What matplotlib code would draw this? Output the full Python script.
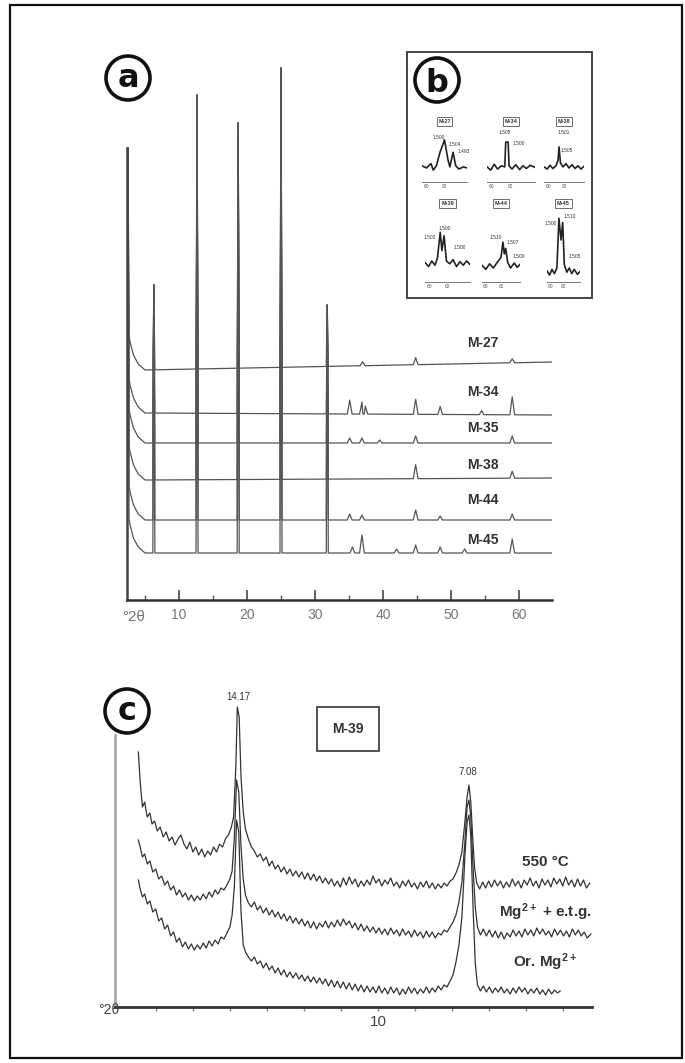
import numpy as np
import matplotlib.pyplot as plt
from matplotlib.patches import Rectangle, Circle

W, H = 685, 1063
plt.rcParams['font.family'] = ['Liberation Sans Narrow', 'Liberation Sans', 'DejaVu Sans']
plt.rcParams['mathtext.default'] = 'regular'

# ---------------- panel a : whole-rock patterns ----------------
a_samples = ['M-27', 'M-34', 'M-35', 'M-38', 'M-44', 'M-45']
a_base_left = [230, 187, 157, 120, 80, 47]
a_base_right = [238, 185, 157, 122, 80, 47]
a_hook_deg = [2.4, 2.8, 3.3, 4.0, 5.0]
a_hook_rise = [45, 28, 15, 6, 0]
a_main_pos = [2.5, 6.3, 12.65, 18.7, 25.0, 31.8]
a_main_top = [452, 315, 505, 477, 532, 295]
a_minor_pos = [
    [37.0, 44.8, 59.0],
    [35.1, 36.9, 37.4, 44.8, 48.4, 54.5, 59.0],
    [35.1, 36.9, 39.5, 44.8, 59.0],
    [44.8, 59.0],
    [35.1, 36.9, 44.8, 48.4, 59.0],
    [35.5, 36.9, 42.0, 44.8, 48.4, 52.0, 59.0],
]
a_minor_h = [
    [4, 7, 4],
    [14, 12, 8, 15, 8, 4, 18],
    [5, 5, 3, 7, 7],
    [14, 7],
    [6, 5, 10, 4, 6],
    [6, 18, 4, 8, 6, 4, 14],
]
a_label_y = [257, 208, 172, 135, 100, 60]

# ---------------- panel b : 060 region insets ----------------
b_samples = ['M-27', 'M-34', 'M-38', 'M-39', 'M-44', 'M-45']
b_traces = [
    [(59.5, 30), (60.0, 26), (60.5, 34), (60.75, 22), (61.1, 30), (61.5, 55), (62.0, 78),
     (62.4, 40), (62.6, 28), (62.95, 55), (63.25, 30), (63.6, 24), (64.1, 28), (64.5, 26)],
    [(59.5, 28), (59.9, 22), (60.25, 33), (60.6, 24), (61.0, 30), (61.35, 28), (61.45, 74),
     (61.7, 74), (61.8, 30), (62.1, 24), (62.5, 32), (62.9, 23), (63.25, 30), (63.6, 25),
     (64.0, 31), (64.5, 27)],
    [(59.5, 28), (59.9, 24), (60.25, 31), (60.6, 25), (61.0, 30), (61.25, 40), (61.38, 65),
     (61.56, 35), (61.88, 28), (62.25, 34), (62.62, 26), (63.0, 32), (63.38, 25), (63.75, 30),
     (64.12, 24), (64.5, 29)],
    [(59.5, 28), (59.9, 22), (60.25, 30), (60.6, 24), (60.88, 34), (61.19, 71), (61.38, 45),
     (61.62, 66), (61.88, 30), (62.25, 26), (62.62, 32), (63.0, 22), (63.38, 29), (63.75, 24),
     (64.12, 30), (64.5, 25)],
    [(59.5, 24), (60.0, 18), (60.5, 26), (61.0, 20), (61.5, 28), (62.0, 35), (62.25, 57),
     (62.44, 40), (62.62, 48), (62.88, 28), (63.25, 20), (63.75, 27), (64.12, 21), (64.5, 25)],
    [(59.5, 16), (59.88, 10), (60.25, 18), (60.62, 12), (61.0, 20), (61.31, 91), (61.62, 60),
     (61.88, 85), (62.12, 25), (62.5, 14), (62.88, 20), (63.25, 12), (63.62, 18), (64.12, 11),
     (64.5, 15)],
]
b_peak_labels = [
    [('1.500', 61.4, 83), ('1.504', 63.1, 69), ('1.493', 64.1, 56)],
    [('1.505', 61.4, 91), ('1.500', 62.85, 72)],
    [('1.501', 62.0, 91), ('1.505', 62.4, 59)],
    [('1.500', 61.75, 77), ('1.503', 60.0, 64), ('1.500', 63.4, 49)],
    [('1.510', 61.25, 64), ('1.507', 63.5, 56), ('1.500', 64.3, 36)],
    [('1.500', 60.0, 84), ('1.510', 63.0, 93), ('1.505', 63.75, 36)],
]
# inset rectangles in pixels: left, right, top, bottom
b_rects = [(422, 467, 128, 182), (487, 535, 128, 182), (544, 584, 128, 182),
           (425, 470, 212, 282), (482, 520, 212, 282), (547, 580, 212, 282)]

# ---------------- panel c : M-39 oriented clay fraction ----------------
c_550 = [
    (3.53, 255), (3.58, 225), (3.64, 200), (3.70, 205), (3.77, 190), (3.84, 194), (3.90, 183),
    (3.97, 186), (4.04, 176), (4.12, 180), (4.20, 170), (4.28, 175), (4.36, 166), (4.44, 170),
    (4.52, 162), (4.60, 168), (4.68, 172), (4.76, 163), (4.84, 158), (4.92, 165), (5.00, 155),
    (5.08, 160), (5.16, 152), (5.24, 158), (5.32, 150), (5.40, 156), (5.48, 152), (5.56, 160),
    (5.64, 155), (5.72, 163), (5.80, 160), (5.88, 168), (5.96, 172), (6.04, 180), (6.10, 190),
    (6.16, 240), (6.20, 300), (6.25, 290), (6.30, 230), (6.36, 195), (6.42, 178), (6.50, 168),
    (6.58, 160), (6.66, 156), (6.74, 150), (6.82, 153), (6.90, 146), (6.98, 150), (7.06, 141),
    (7.14, 146), (7.22, 138), (7.30, 142), (7.38, 135), (7.46, 140), (7.54, 133), (7.62, 138),
    (7.70, 131), (7.78, 136), (7.86, 130), (7.94, 135), (8.02, 128), (8.10, 134), (8.18, 127),
    (8.26, 133), (8.34, 126), (8.42, 131), (8.50, 124), (8.58, 129), (8.66, 123), (8.74, 128),
    (8.82, 121), (8.90, 126), (8.98, 120), (9.06, 129), (9.14, 122), (9.22, 130), (9.30, 123),
    (9.38, 128), (9.46, 120), (9.54, 126), (9.62, 121), (9.70, 127), (9.78, 122), (9.86, 131),
    (9.94, 124), (10.02, 128), (10.10, 121), (10.18, 127), (10.26, 123), (10.34, 129),
    (10.42, 121), (10.50, 125), (10.58, 119), (10.66, 126), (10.74, 121), (10.82, 127),
    (10.90, 120), (10.98, 124), (11.06, 118), (11.14, 125), (11.22, 120), (11.30, 126),
    (11.38, 119), (11.46, 124), (11.54, 118), (11.62, 123), (11.70, 119), (11.78, 124),
    (11.86, 121), (11.94, 126), (12.02, 128), (12.10, 134), (12.18, 142), (12.26, 155),
    (12.34, 185), (12.40, 210), (12.45, 222), (12.50, 205), (12.55, 170), (12.60, 140),
    (12.66, 124), (12.74, 118), (12.82, 125), (12.90, 119), (12.98, 126), (13.06, 120),
    (13.14, 127), (13.22, 121), (13.30, 126), (13.38, 119), (13.46, 125), (13.54, 120),
    (13.62, 128), (13.70, 121), (13.78, 126), (13.86, 119), (13.94, 127), (14.02, 122),
    (14.10, 129), (14.18, 121), (14.26, 126), (14.34, 119), (14.42, 128), (14.50, 122),
    (14.58, 127), (14.66, 120), (14.74, 129), (14.82, 123), (14.90, 128), (14.98, 121),
    (15.06, 130), (15.14, 122), (15.22, 127), (15.30, 120), (15.38, 128), (15.46, 121),
    (15.54, 127), (15.62, 119), (15.71, 124),
]
c_etg = [
    (3.53, 167), (3.58, 160), (3.64, 150), (3.70, 153), (3.77, 143), (3.84, 146), (3.92, 135),
    (4.00, 138), (4.08, 128), (4.16, 131), (4.24, 122), (4.32, 126), (4.40, 117), (4.48, 121),
    (4.56, 112), (4.64, 117), (4.72, 110), (4.80, 114), (4.88, 107), (4.96, 112), (5.04, 106),
    (5.12, 111), (5.20, 107), (5.28, 113), (5.36, 108), (5.44, 115), (5.52, 110), (5.60, 117),
    (5.68, 113), (5.76, 119), (5.84, 117), (5.92, 122), (6.00, 128), (6.06, 136), (6.12, 170),
    (6.18, 227), (6.24, 215), (6.30, 160), (6.36, 128), (6.42, 112), (6.50, 104), (6.58, 100),
    (6.66, 105), (6.74, 97), (6.82, 101), (6.90, 94), (6.98, 99), (7.06, 92), (7.14, 97),
    (7.22, 90), (7.30, 95), (7.38, 88), (7.46, 93), (7.54, 86), (7.62, 91), (7.70, 84),
    (7.78, 89), (7.86, 83), (7.94, 88), (8.02, 81), (8.10, 86), (8.18, 79), (8.26, 85),
    (8.34, 78), (8.42, 84), (8.50, 80), (8.58, 86), (8.66, 79), (8.74, 85), (8.82, 80),
    (8.90, 87), (8.98, 81), (9.06, 88), (9.14, 82), (9.22, 86), (9.30, 79), (9.38, 84),
    (9.46, 77), (9.54, 83), (9.62, 76), (9.70, 81), (9.78, 75), (9.86, 80), (9.94, 74),
    (10.02, 79), (10.10, 73), (10.18, 78), (10.26, 72), (10.34, 79), (10.42, 73), (10.50, 77),
    (10.58, 71), (10.66, 78), (10.74, 72), (10.82, 76), (10.90, 70), (10.98, 77), (11.06, 71),
    (11.14, 75), (11.22, 69), (11.30, 76), (11.38, 70), (11.46, 75), (11.54, 69), (11.62, 74),
    (11.70, 72), (11.78, 77), (11.86, 75), (11.94, 80), (12.02, 85), (12.10, 92), (12.18, 105),
    (12.26, 125), (12.34, 165), (12.40, 200), (12.45, 207), (12.50, 190), (12.56, 140),
    (12.62, 100), (12.68, 80), (12.76, 72), (12.84, 78), (12.92, 71), (13.00, 77), (13.08, 70),
    (13.16, 76), (13.24, 69), (13.32, 75), (13.40, 68), (13.48, 74), (13.56, 70), (13.64, 77),
    (13.72, 71), (13.80, 76), (13.88, 70), (13.96, 78), (14.04, 72), (14.12, 77), (14.20, 71),
    (14.28, 79), (14.36, 73), (14.44, 78), (14.52, 72), (14.60, 76), (14.68, 70), (14.76, 78),
    (14.84, 72), (14.92, 77), (15.00, 71), (15.08, 76), (15.16, 70), (15.24, 78), (15.32, 72),
    (15.40, 77), (15.48, 71), (15.56, 75), (15.64, 69), (15.74, 73),
]
c_or = [
    (3.53, 127), (3.58, 118), (3.64, 110), (3.70, 113), (3.77, 103), (3.84, 106), (3.92, 95),
    (4.00, 98), (4.08, 86), (4.16, 89), (4.24, 78), (4.32, 82), (4.40, 71), (4.48, 75),
    (4.56, 65), (4.64, 69), (4.72, 60), (4.80, 65), (4.88, 58), (4.96, 63), (5.04, 57),
    (5.12, 62), (5.20, 58), (5.28, 64), (5.36, 59), (5.44, 66), (5.52, 61), (5.60, 67),
    (5.68, 63), (5.76, 70), (5.84, 68), (5.92, 74), (6.00, 80), (6.06, 92), (6.12, 120),
    (6.18, 187), (6.24, 175), (6.30, 95), (6.36, 62), (6.42, 55), (6.50, 50), (6.58, 46),
    (6.66, 50), (6.74, 43), (6.82, 46), (6.90, 39), (6.98, 44), (7.06, 37), (7.14, 41),
    (7.22, 34), (7.30, 39), (7.38, 32), (7.46, 37), (7.54, 30), (7.62, 35), (7.70, 29),
    (7.78, 34), (7.86, 28), (7.94, 32), (8.02, 26), (8.10, 31), (8.18, 25), (8.26, 30),
    (8.34, 24), (8.42, 29), (8.50, 23), (8.58, 28), (8.66, 21), (8.74, 27), (8.82, 20),
    (8.90, 26), (8.98, 19), (9.06, 25), (9.14, 18), (9.22, 24), (9.30, 17), (9.38, 23),
    (9.46, 16), (9.54, 22), (9.62, 15), (9.70, 21), (9.78, 15), (9.86, 20), (9.94, 14),
    (10.02, 21), (10.10, 14), (10.18, 19), (10.26, 13), (10.34, 20), (10.42, 14), (10.50, 19),
    (10.58, 12), (10.66, 18), (10.74, 13), (10.82, 20), (10.90, 14), (10.98, 19), (11.06, 13),
    (11.14, 18), (11.22, 14), (11.30, 20), (11.38, 14), (11.46, 19), (11.54, 15), (11.62, 21),
    (11.70, 17), (11.78, 22), (11.86, 20), (11.94, 26), (12.02, 32), (12.10, 45), (12.18, 62),
    (12.26, 90), (12.34, 150), (12.40, 185), (12.45, 192), (12.50, 170), (12.56, 100),
    (12.62, 44), (12.68, 22), (12.76, 16), (12.84, 21), (12.92, 15), (13.00, 20), (13.08, 14),
    (13.16, 19), (13.24, 15), (13.32, 20), (13.40, 14), (13.48, 18), (13.56, 13), (13.64, 19),
    (13.72, 14), (13.80, 20), (13.88, 15), (13.96, 19), (14.04, 13), (14.12, 18), (14.20, 14),
    (14.28, 19), (14.36, 13), (14.44, 17), (14.52, 12), (14.60, 18), (14.68, 13), (14.76, 17),
    (14.84, 14), (14.91, 16),
]
c_names = ['550 °C', 'Mg$^{2+}$ + e.t.g.', 'Or. Mg$^{2+}$']
c_label_y = [145, 95, 45]


def px_rect(left, right, top, bottom):
    return [left / W, 1 - bottom / H, (right - left) / W, (bottom - top) / H]


fig = plt.figure(figsize=(W / 100, H / 100), dpi=100)

# background layer in pixel units (frame, circled letters, inset box)
bg = fig.add_axes([0, 0, 1, 1], zorder=-1)
bg.set_xlim(0, W)
bg.set_ylim(H, 0)
bg.axis('off')
bg.add_patch(Rectangle((10, 5), 672, 1053, fill=False, ec='#111', lw=1.6))
bg.add_patch(Rectangle((407, 52), 185, 246, fill=False, ec='#444', lw=1.4))
# letter, circle centre, baseline offset
for letter, cx, cy, dy in [('a', 128, 78, 9), ('b', 437, 80, 12), ('c', 127, 711, 9)]:
    bg.add_patch(Circle((cx, cy), 22, fill=False, ec='#111', lw=2.6))
    bg.text(cx, cy + dy, letter, ha='center', va='baseline', fontsize=23,
            fontweight='bold', family='DejaVu Sans', color='#111')

# ---- panel a ----
ax = fig.add_axes(px_rect(127, 552, 40, 600), facecolor='none')
for i, name in enumerate(a_samples):
    bx = a_hook_deg + [64.85]
    by = [a_base_left[i] + r for r in a_hook_rise] + [a_base_right[i]]
    pts = list(zip(bx, by))
    for p, top in zip(a_main_pos, a_main_top):
        pts += [(p - 0.15, np.interp(p - 0.15, bx, by)), (p, top),
                (p + 0.15, np.interp(p + 0.15, bx, by))]
    for p, h in zip(a_minor_pos[i], a_minor_h[i]):
        b0 = np.interp(p, bx, by)
        pts += [(p - 0.35, b0), (p, b0 + h), (p + 0.35, b0)]
    pts.sort()
    xs, ys = zip(*pts)
    ax.plot(xs, ys, color='#555', lw=0.9)
    ax.text(54.7, a_label_y[i], name, ha='center', va='center', fontsize=10,
            fontweight='bold', color='#333')
ax.set_xlim(2.35, 64.85)
ax.set_ylim(0, 560)
for s in ['top', 'right']:
    ax.spines[s].set_visible(False)
ax.spines['left'].set_bounds(0, 452)
ax.spines['left'].set_color('#444')
ax.spines['left'].set_linewidth(1.8)
ax.spines['bottom'].set_color('#333')
ax.spines['bottom'].set_linewidth(1.8)
ax.set_yticks([])
ax.set_xticks([10, 20, 30, 40, 50, 60])
ax.set_xticks([5, 15, 25, 35, 45, 55], minor=True)
ax.tick_params(axis='x', which='major', direction='in', length=7, width=1.2,
               color='#444', labelsize=10, labelcolor='#777', pad=6)
ax.tick_params(axis='x', which='minor', direction='in', length=3.5, width=1.0, color='#555')
ax.text(3.3, -17, '°2θ', ha='center', va='center', fontsize=11, color='#777', clip_on=False)

# ---- panel b ----
for i, name in enumerate(b_samples):
    l, r, t, b = b_rects[i]
    bax = fig.add_axes(px_rect(l, r, t, b), facecolor='none')
    xs, ys = zip(*b_traces[i])
    bax.plot(xs, ys, color='#222', lw=1.2)
    for txt, x, y in b_peak_labels[i]:
        bax.text(x, y, txt, fontsize=3.5, ha='center', va='center', color='#333')
    bax.text(0.5, 1.12, name, transform=bax.transAxes, ha='center', va='center',
             fontsize=4, fontweight='bold', color='#333',
             bbox=dict(boxstyle='square,pad=0.3', fc='white', ec='#555', lw=0.6))
    bax.set_xlim(59.5, 64.5)
    bax.set_ylim(0, 100)
    for s in ['top', 'right', 'left']:
        bax.spines[s].set_visible(False)
    bax.spines['bottom'].set_color('#777')
    bax.spines['bottom'].set_linewidth(0.7)
    bax.set_yticks([])
    bax.set_xticks([60, 62])
    bax.tick_params(axis='x', length=0, labelsize=3.5, labelcolor='#555', pad=1.5)

# ---- panel c ----
cx = fig.add_axes(px_rect(115, 592, 690, 1007), facecolor='none')
for trace, name, ly in zip([c_550, c_etg, c_or], c_names, c_label_y):
    xs, ys = zip(*trace)
    cx.plot(xs, ys, color='#333', lw=0.9)
    cx.text(14.5, ly, name, ha='center', va='center', fontsize=11,
            fontweight='bold', color='#333')
cx.text(6.23, 310, '14.17', ha='center', va='center', fontsize=7, color='#333')
cx.text(12.42, 235, '7.08', ha='center', va='center', fontsize=7, color='#333')
cx.text(9.19, 278, 'M-39', ha='center', va='center', fontsize=10, fontweight='bold',
        color='#333', bbox=dict(boxstyle='square,pad=1.1', fc='white', ec='#333', lw=1.2))
cx.set_xlim(2.9, 15.77)
cx.set_ylim(0, 317)
for s in ['top', 'right']:
    cx.spines[s].set_visible(False)
cx.spines['left'].set_bounds(0, 272)
cx.spines['left'].set_color('#aaa')
cx.spines['left'].set_linewidth(2)
cx.spines['bottom'].set_color('#333')
cx.spines['bottom'].set_linewidth(2)
cx.set_yticks([])
c_ticks = list(range(4, 16))
cx.set_xticks(c_ticks)
cx.set_xticklabels(['10' if t == 10 else '' for t in c_ticks])
cx.tick_params(axis='x', direction='out', length=3, width=1, color='#888',
               labelsize=11, labelcolor='#444', pad=3)
cx.text(2.72, -3, '°2θ', ha='center', va='center', fontsize=10, color='#444', clip_on=False)

fig.savefig('out.png', dpi=100)
